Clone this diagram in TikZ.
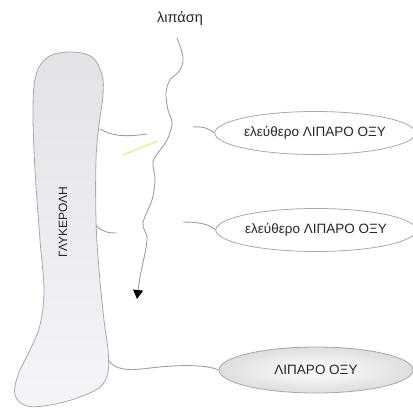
\documentclass[tikz,border=0pt]{standalone}
\usepackage{fontspec}
\setmainfont{Liberation Sans}
\usetikzlibrary{shapes.geometric,arrows.meta}
\definecolor{linegray}{HTML}{9E9E9E}
\definecolor{edgegray}{HTML}{A8A8A8}
\definecolor{glytop}{HTML}{E2E3E6}
\definecolor{glybot}{HTML}{F3F5F9}
\definecolor{yellowish}{HTML}{E6EDB0}
\tikzset{
  conn/.style={draw=linegray, line width=0.9pt},
  acid/.style={ellipse, draw=edgegray, line width=0.8pt, inner sep=0pt,
    minimum width=194pt, minimum height=43pt, font=\fontsize{13.5}{15}\selectfont, text=black!85},
  label/.style={font=\fontsize{13.5}{15}\selectfont, text=black!85}
}
\begin{document}
\begin{tikzpicture}[x=1pt,y=-1pt]
\useasboundingbox (0,0) rectangle (413,408);
% glycerol body
\path[draw=edgegray, line width=0.8pt, top color=glytop, bottom color=glybot]
  plot[smooth cycle, tension=0.6] coordinates {
  (70,52) (92,57) (102,75) (103,95) (99,125) (96,160) (96,220) (99,270)
  (104,320) (108,350) (108,372) (100,387) (77,398) (50,405) (27,406)
  (15,395) (18,375) (30,350) (40,325) (44,290) (40,240) (35,170)
  (33,110) (36,75) (48,57)};
\node[label, rotate=90, font=\fontsize{12}{14}\selectfont] (gly) at (63,222) {ΓΛΥΚΕΡΟΛΗ};
% acids
\node[acid] (e1) at (315,133) {ελεύθερο ΛΙΠΑΡΟ ΟΞΥ};
\node[acid] (e2) at (316,230) {ελεύθερο ΛΙΠΑΡΟ ΟΞΥ};
\node[acid, inner color=white, outer color=black!13, minimum height=46pt] (e3) at (316,370) {ΛΙΠΑΡΟ ΟΞΥ};
% lipase
\node[label, font=\fontsize{14.5}{16}\selectfont] (lip) at (180,19) {λιπάση};
\coordinate (l0) at (177,38);
\coordinate (l1) at (137,299);
\draw[conn, -{Triangle[width=10pt,length=9pt,color=black]}]
  plot[smooth, tension=0.6] coordinates {
  (l0) (183,57) (180,70) (170,80) (166,93) (168,110) (172,123) (167,140)
  (155,157) (153,165) (155,180) (152,200) (143,223) (147,237) (145,253)
  (140,277) (l1)};
% connectors
\coordinate (g1) at (100,129);
\coordinate (f1) at (147,134);
\coordinate (s1) at (193,127);
\draw[conn] (g1) .. controls (115,138) and (132,136) .. (f1);
\draw[conn] (s1) .. controls (203,126) and (210,129) .. (e1.west);
\coordinate (g2) at (96,225);
\coordinate (f2) at (117,233);
\coordinate (s2) at (183,222);
\draw[conn] (g2) .. controls (101,232) and (109,233) .. (f2);
\draw[conn] (s2) .. controls (198,222) and (210,224) .. (e2.west);
\coordinate (g3) at (108,360);
\draw[conn] (g3) .. controls (115,370) and (128,371) .. (150,368)
  .. controls (175,365) and (205,364) .. (e3.west);
% faint stroke
\coordinate (y0) at (123,155);
\coordinate (y1) at (158,141);
\draw[yellowish, line width=1.6pt] (y0) -- (y1);
\end{tikzpicture}
\end{document}
